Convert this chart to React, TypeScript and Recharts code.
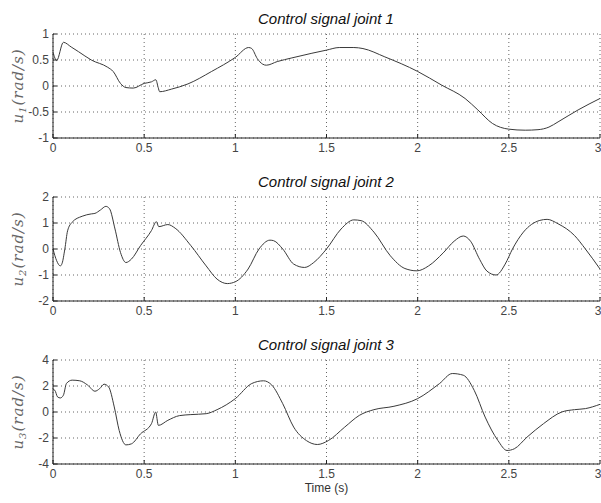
import { LineChart, Line, XAxis, YAxis, CartesianGrid } from 'recharts'

// time stamps (s) and control signals (rad/s)
const T1 = [0, 0.02, 0.057, 0.1, 0.14, 0.21, 0.3, 0.33, 0.37, 0.4, 0.44, 0.5, 0.54, 0.564, 0.577, 0.585, 0.65, 0.74, 0.87, 1.0, 1.073, 1.09, 1.12, 1.15, 1.17, 1.23, 1.31, 1.42, 1.5, 1.57, 1.65, 1.7, 1.82, 2.0, 2.13, 2.26, 2.33, 2.41, 2.5, 2.59, 2.66, 2.72, 2.77, 2.88, 3.0]
const U1 = [0.65, 0.49, 0.84, 0.75, 0.66, 0.5, 0.36, 0.28, 0.05, -0.03, -0.04, 0.05, 0.08, 0.12, -0.03, -0.11, -0.06, 0.04, 0.28, 0.55, 0.74, 0.72, 0.53, 0.42, 0.4, 0.47, 0.54, 0.63, 0.69, 0.74, 0.74, 0.72, 0.56, 0.28, 0.02, -0.24, -0.46, -0.72, -0.83, -0.85, -0.84, -0.79, -0.69, -0.46, -0.24]

const T2 = [0, 0.02, 0.04, 0.05, 0.065, 0.08, 0.105, 0.16, 0.21, 0.23, 0.26, 0.29, 0.31, 0.34, 0.37, 0.4, 0.43, 0.48, 0.54, 0.567, 0.58, 0.63, 0.67, 0.756, 0.84, 0.9, 0.956, 1.0, 1.07, 1.13, 1.19, 1.21, 1.26, 1.32, 1.38, 1.43, 1.5, 1.58, 1.65, 1.69, 1.76, 1.85, 1.93, 1.996, 2.06, 2.14, 2.2, 2.25, 2.29, 2.34, 2.38, 2.43, 2.48, 2.52, 2.58, 2.67, 2.71, 2.77, 2.86, 2.92, 3.0]
const U2 = [0, -0.45, -0.65, -0.55, 0, 0.7, 1.03, 1.26, 1.35, 1.37, 1.5, 1.64, 1.55, 0.77, -0.13, -0.52, -0.39, 0.13, 0.71, 1.05, 0.86, 0.94, 0.8, 0.13, -0.65, -1.16, -1.33, -1.26, -0.77, 0, 0.34, 0.32, 0, -0.58, -0.71, -0.52, 0, 0.77, 1.12, 1.09, 0.65, -0.26, -0.75, -0.84, -0.65, -0.15, 0.3, 0.5, 0.3, -0.4, -0.85, -1.0, -0.58, 0, 0.65, 1.1, 1.14, 0.97, 0.52, 0, -0.77]

const T3 = [0, 0.01, 0.025, 0.04, 0.057, 0.074, 0.105, 0.147, 0.19, 0.23, 0.256, 0.28, 0.305, 0.336, 0.363, 0.4, 0.43, 0.48, 0.54, 0.563, 0.578, 0.63, 0.693, 0.756, 0.84, 0.9, 1.0, 1.09, 1.155, 1.2, 1.26, 1.32, 1.39, 1.45, 1.51, 1.6, 1.68, 1.76, 1.87, 2.0, 2.12, 2.19, 2.25, 2.31, 2.37, 2.44, 2.49, 2.53, 2.6, 2.69, 2.79, 2.86, 2.92, 3.0]
const U3 = [1.73, 1.67, 1.16, 1.08, 1.29, 2.2, 2.45, 2.4, 2.07, 1.6, 1.8, 2.14, 1.93, 0.39, -1.42, -2.53, -2.45, -1.68, -0.9, 0, -1.03, -0.64, -0.28, -0.2, -0.13, 0.18, 1.03, 2.19, 2.4, 2.07, 0.64, -1.16, -2.2, -2.5, -2.2, -1.16, -0.26, 0.18, 0.44, 1.03, 2.19, 2.96, 2.83, 1.67, -0.39, -2.19, -2.96, -2.83, -1.93, -0.9, 0, 0.18, 0.26, 0.59]

const X_TICKS = [0, 0.5, 1, 1.5, 2, 2.5, 3]
const Y_TICKS_1 = [-1, -0.5, 0, 0.5, 1]
const Y_TICKS_2 = [-2, -1, 0, 1, 2]
const Y_TICKS_3 = [-4, -2, 0, 2, 4]

const TITLES = ['Control signal joint 1', 'Control signal joint 2', 'Control signal joint 3']

const AXIS = '#222'
const TICK_FONT = { fontSize: 12, fill: '#444', fontFamily: 'Liberation Sans, Arial, sans-serif' }

function YLabel({ viewBox, idx }: any) {
  const cx = 18
  const cy = viewBox.y + viewBox.height / 2
  return (
    <text
      x={cx}
      y={cy}
      transform={`rotate(-90 ${cx} ${cy})`}
      textAnchor="middle"
      dominantBaseline="central"
      fill="#666"
      fontFamily="DejaVu Serif, serif"
      fontStyle="italic"
      fontSize={15}
      letterSpacing={1}
    >
      u<tspan fontSize={10} dy={4}>{idx}</tspan>
      <tspan dy={-4}>(rad/s)</tspan>
    </text>
  )
}

function TimeLabel({ viewBox }: any) {
  return (
    <text
      x={viewBox.x + viewBox.width / 2}
      y={viewBox.y + 24}
      textAnchor="middle"
      dominantBaseline="central"
      fill="#333"
      fontFamily="Liberation Sans, Arial, sans-serif"
      fontSize={12}
    >
      Time (s)
    </text>
  )
}

function Panel({ t, u, yTicks, idx, last }: { t: number[]; u: number[]; yTicks: number[]; idx: number; last?: boolean }) {
  const data = t.map((x, i) => ({ t: x, u: u[i] }))
  const h = last ? 177 : 163
  const dom: [number, number] = [yTicks[0], yTicks[yTicks.length - 1]]
  return (
    <LineChart width={601} height={h} data={data} margin={{ top: 34, right: 1, bottom: 0, left: 0 }}>
      <CartesianGrid stroke="#666" strokeDasharray="1 3" />
      <XAxis
        dataKey="t"
        type="number"
        domain={[0, 3]}
        ticks={X_TICKS}
        height={h - 34 - 104}
        stroke={AXIS}
        tickSize={-4}
        tickMargin={9}
        tick={TICK_FONT}
        label={last ? <TimeLabel /> : undefined}
      />
      <XAxis
        xAxisId="top"
        orientation="top"
        type="number"
        domain={[0, 3]}
        ticks={X_TICKS}
        height={0}
        stroke={AXIS}
        tickSize={-4}
        tickFormatter={() => ''}
      />
      <YAxis
        type="number"
        domain={dom}
        ticks={yTicks}
        width={53}
        stroke={AXIS}
        tickSize={-4}
        tickMargin={8}
        tick={TICK_FONT}
        label={<YLabel idx={idx} />}
      />
      <YAxis
        yAxisId="right"
        orientation="right"
        type="number"
        domain={dom}
        ticks={yTicks}
        width={0}
        stroke={AXIS}
        tickSize={-4}
        tickFormatter={() => ''}
      />
      <Line
        type="monotone"
        dataKey="u"
        stroke="#3a3a3a"
        strokeWidth={1}
        dot={false}
        isAnimationActive={false}
      />
    </LineChart>
  )
}

export default function App() {
  return (
    <div style={{ position: 'absolute', left: 0, top: 0, width: 601, height: 503, background: '#fff' }}>
      <div style={{ position: 'absolute', left: 0, top: 0 }}>
        <Panel t={T1} u={U1} yTicks={Y_TICKS_1} idx={1} />
      </div>
      <div style={{ position: 'absolute', left: 0, top: 163 }}>
        <Panel t={T2} u={U2} yTicks={Y_TICKS_2} idx={2} />
      </div>
      <div style={{ position: 'absolute', left: 0, top: 326 }}>
        <Panel t={T3} u={U3} yTicks={Y_TICKS_3} idx={3} last />
      </div>
      <svg width={601} height={503} style={{ position: 'absolute', left: 0, top: 0, pointerEvents: 'none' }}>
        {TITLES.map((title, i) => (
          <text
            key={title}
            x={326}
            y={23.5 + i * 163}
            textAnchor="middle"
            fill="#111"
            fontFamily="Liberation Sans, Arial, sans-serif"
            fontStyle="italic"
            fontSize={15}
          >
            {title}
          </text>
        ))}
      </svg>
    </div>
  )
}
